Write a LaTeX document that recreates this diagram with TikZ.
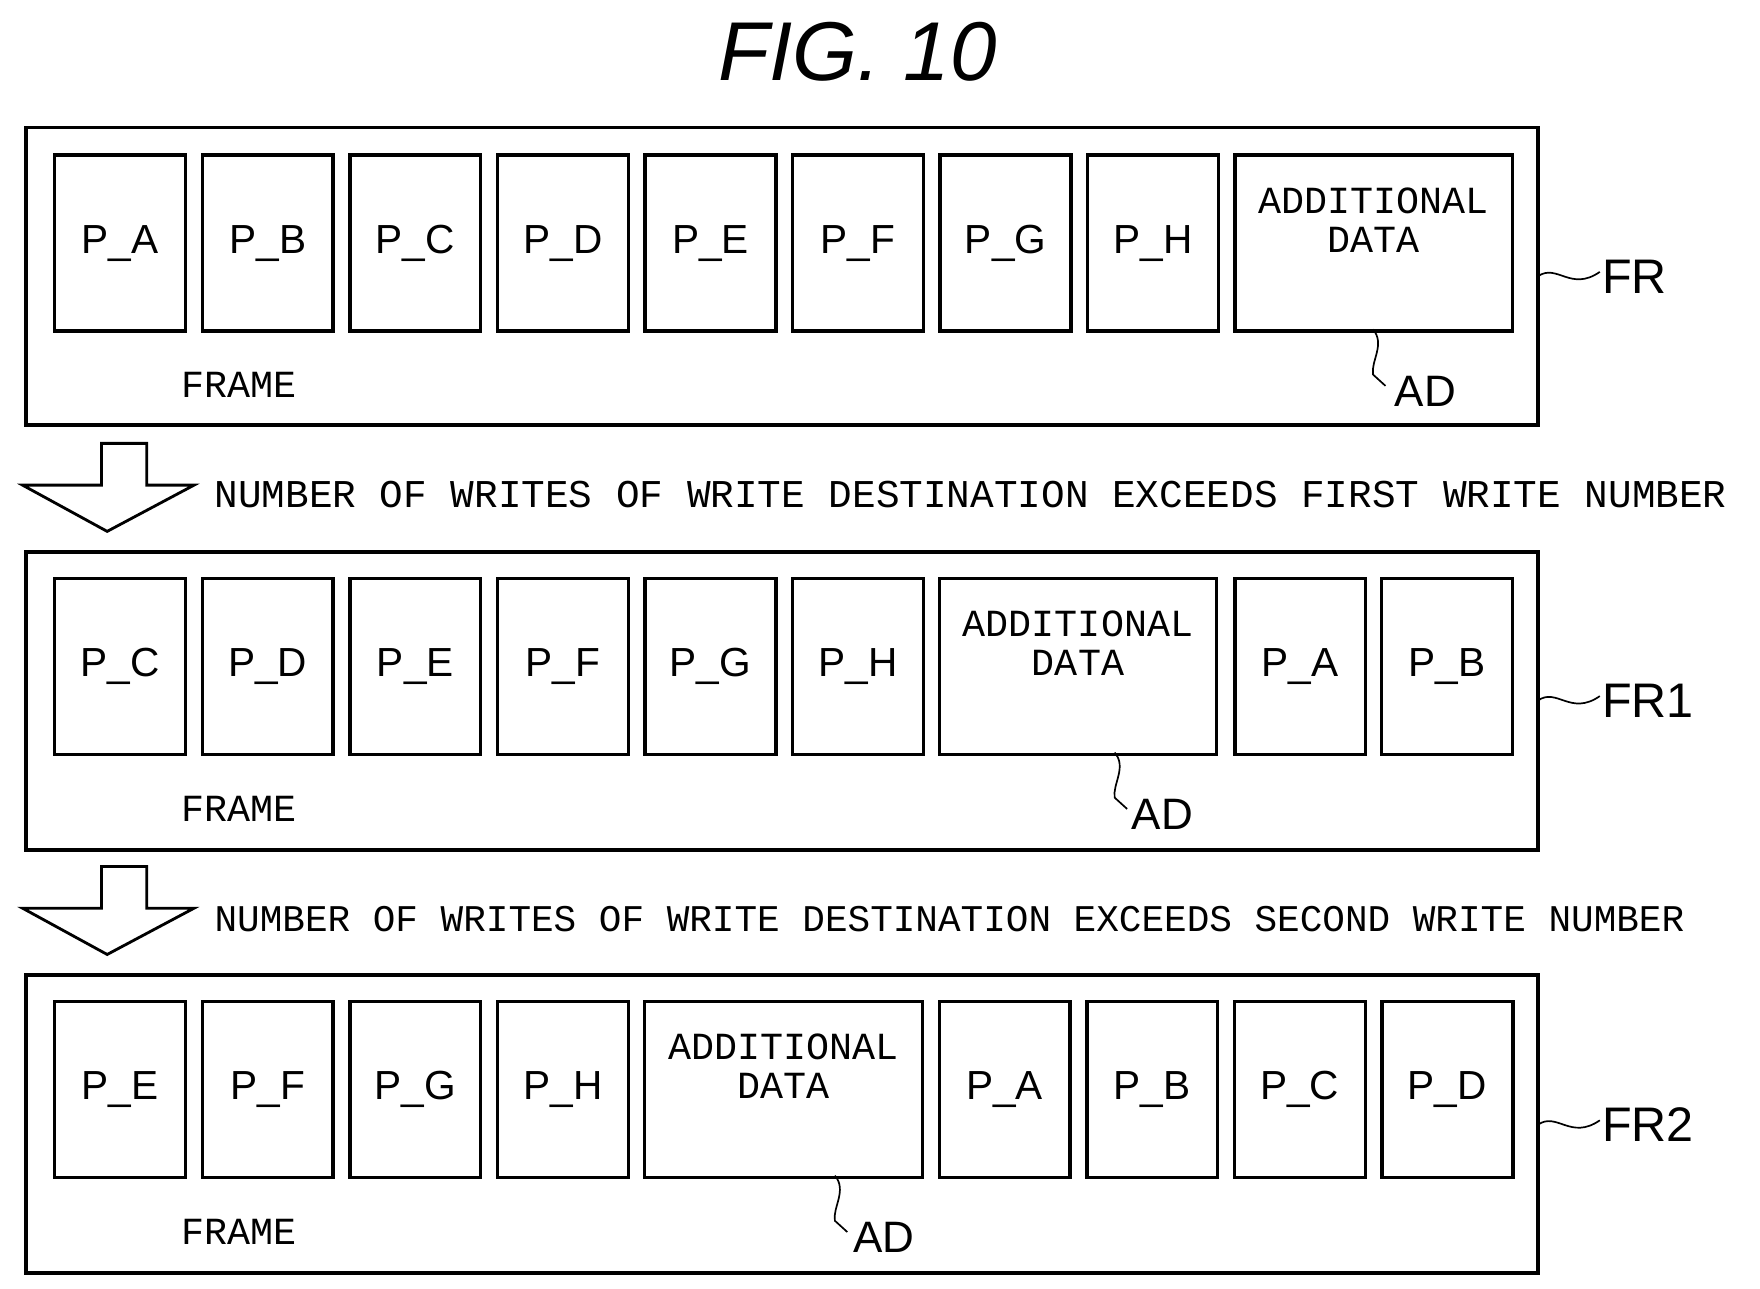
\documentclass[tikz,border=0pt]{standalone}
\usepackage{fontspec}
\setmainfont{Liberation Sans}
\newfontfamily\monof{Liberation Mono}
\begin{document}
\begin{tikzpicture}[x=1pt,y=-1pt,
  frame/.style={draw,line width=3.5pt},
  pbox/.style={draw,line width=3pt,minimum width=116pt,minimum height=156pt,anchor=north west,inner sep=0pt,font=\fontsize{36}{40}\selectfont},
  adbox/.style={draw,line width=3pt,minimum width=246pt,minimum height=156pt,anchor=north west,inner sep=0pt,align=center,font=\monof\fontsize{34}{35}\selectfont},
  mono/.style={font=\monof\fontsize{34}{36}\selectfont,inner sep=0pt},
  ref/.style={font=\fontsize{43}{46}\selectfont,inner sep=0pt,anchor=west},
  lead/.style={line width=1.5pt},
  barrow/.style={draw,line width=2.5pt,line join=miter}]
\useasboundingbox (0,0) rectangle (1560,1142);
\node[font=\itshape\fontsize{74}{80}\selectfont,inner sep=0pt] (title) at (760,46) {FIG. 10};
% frames
\foreach \n/\y in {f0/113,f1/489,f2/864}{
  \draw[frame] (23,\y) rectangle ++(1340,264);
  \node[mono] (\n lab) at (212,\y+228) {FRAME};
}
% frame 0
\foreach \t [count=\i from 0] in {A,B,C,D,E,F,G,H}{
  \node[pbox] (a\i) at (47+130.8*\i,136) {P\_\t};}
\node[adbox] (ad0) at (1093,136) {ADDITIONAL\\DATA\\[6pt]};
% frame 1
\foreach \t [count=\i from 0] in {C,D,E,F,G,H}{
  \node[pbox] (b\i) at (47+130.8*\i,511) {P\_\t};}
\node[adbox] (ad1) at (831,511) {ADDITIONAL\\DATA\\[6pt]};
\node[pbox] (b6) at (1093,511) {P\_A};
\node[pbox] (b7) at (1223,511) {P\_B};
% frame 2
\foreach \t [count=\i from 0] in {E,F,G,H}{
  \node[pbox] (c\i) at (47+130.8*\i,886) {P\_\t};}
\node[adbox] (ad2) at (570,886) {ADDITIONAL\\DATA\\[6pt]};
\foreach \t [count=\i from 0] in {A,B,C,D}{
  \node[pbox] (c\the\numexpr\i+5\relax) at (831+130.8*\i,886) {P\_\t};}
% reference labels
\node[ref] (FR) at (1420,245) {FR};
\node[ref] (FR1) at (1420,621) {FR1};
\node[ref] (FR2) at (1420,997) {FR2};
\node[ref,font=\fontsize{39}{42}\selectfont] (AD0) at (1236,347) {AD};
\node[ref,font=\fontsize{39}{42}\selectfont] (AD1) at (1003,722) {AD};
\node[ref,font=\fontsize{39}{42}\selectfont] (AD2) at (756,1097) {AD};
\foreach \y/\l in {245/FR,621/FR1,997/FR2}{
  \draw[lead] (1363,\y) .. controls (1380,\y-12) and (1392,\y+14) .. (1418,\y-4);}
\draw[lead] (1217,292) .. controls (1228,305) and (1215,320) .. (1217,332) -- (1228,342);
\draw[lead] (988,667) .. controls (999,680) and (986,695) .. (988,707) -- (999,717);
\draw[lead] (740,1042) .. controls (751,1055) and (738,1070) .. (740,1082) -- (751,1092);
% block arrows
\foreach \y/\n in {393/ar1,768/ar2}{
  \draw[barrow] (90,\y) -- (130,\y) -- (130,\y+37) -- (172,\y+37) -- (95,\y+78) -- (20,\y+37) -- (90,\y+37) -- cycle;}
\node[mono,anchor=west,font=\monof\fontsize{34.9}{36}\selectfont] (t1) at (190,438) {NUMBER OF WRITES OF WRITE DESTINATION EXCEEDS FIRST WRITE NUMBER};
\node[mono,anchor=west,font=\monof\fontsize{33.4}{36}\selectfont] (t2) at (190,815) {NUMBER OF WRITES OF WRITE DESTINATION EXCEEDS SECOND WRITE NUMBER};
\end{tikzpicture}
\end{document}
